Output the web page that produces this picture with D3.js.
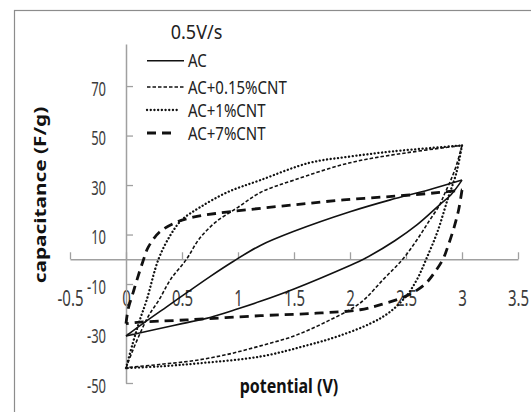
<!DOCTYPE html>
<html>
<head>
<meta charset="utf-8">
<script src="https://cdn.jsdelivr.net/npm/d3@7"></script>
<style>
  html, body { margin: 0; padding: 0; background: #fff; }
  svg { display: block; }
</style>
</head>
<body>
<svg id="chart" width="531" height="412"></svg>
<script>
// CV loops at 0.5 V/s: [potential (V), capacitance (F/g)]
const acCharge = [[0, -31], [0.15, -26], [0.36, -19.3], [0.54, -13.6], [0.75, -7], [0.96, -0.8], [1.2, 5.6], [1.5, 11.3], [2.0, 19.2], [2.36, 24], [2.7, 28], [3.0, 32]];
const acDischarge = [[3.0, 32], [2.9, 26], [2.8, 22], [2.6, 14], [2.4, 7.5], [2.12, 0], [2.0, -2.5], [1.5, -12], [1.2, -17], [1.0, -20], [0.75, -23.5], [0.5, -26], [0.25, -28.5], [0.1, -30], [0, -31]];

const cnt015Charge = [[0, -44], [0.05, -38], [0.125, -30], [0.2, -23], [0.3, -16], [0.4, -8], [0.54, 0], [0.65, 8], [0.8, 15], [1.0, 21], [1.2, 27], [1.5, 32], [2.0, 39], [2.5, 43], [3.0, 46]];
const cnt015Discharge = [[3.0, 46], [2.95, 38], [2.9, 32], [2.85, 27], [2.8, 22], [2.7, 15], [2.6, 8], [2.47, 0], [2.3, -8], [2.09, -17.7], [1.8, -25], [1.5, -31], [1.2, -35], [0.9, -38.5], [0.6, -41], [0.3, -42.5], [0, -43.8]];

const cnt1Charge = [[0, -44], [0.06, -34], [0.12, -25], [0.185, -16.4], [0.29, 0], [0.4, 10], [0.5, 16], [0.66, 21], [0.9, 27], [1.2, 32], [1.64, 39], [2.0, 41.5], [2.38, 43.6], [3.0, 46]];
const cnt1Discharge = [[3.0, 46], [2.95, 35], [2.87, 24], [2.78, 11], [2.68, 0], [2.6, -8], [2.5, -15], [2.35, -21.5], [2.18, -26], [1.9, -31], [1.64, -34.5], [1.2, -39.3], [0.66, -42], [0.3, -43.3], [0, -44]];

const cnt7Charge = [[0, -26], [0.02, -20], [0.06, -14], [0.1, -8], [0.15, -1], [0.2, 5], [0.3, 11], [0.45, 15], [0.6, 17], [0.8, 18.5], [1.08, 20], [1.5, 22], [1.94, 24], [2.4, 25.5], [2.8, 27], [3.0, 28]];
const cnt7Discharge = [[3.0, 28], [2.97, 20], [2.93, 13], [2.88, 6], [2.83, 0], [2.76, -5], [2.68, -9.6], [2.58, -13], [2.47, -15.5], [2.3, -18], [2.09, -20.4], [1.7, -21.8], [1.2, -22.8], [0.54, -24.5], [0.1, -25.5], [0, -26]];

const seriesNames = ["AC", "AC+0.15%CNT", "AC+1%CNT", "AC+7%CNT"];
const xTicks = [-0.5, 0, 0.5, 1, 1.5, 2, 2.5, 3, 3.5];
const yTicks = [-50, -30, -10, 10, 30, 50, 70];

const series = [
  { name: seriesNames[0], loops: [acCharge, acDischarge], dash: null, width: 1.6, cap: "butt", legendEnd: 184 },
  { name: seriesNames[1], loops: [cnt015Charge, cnt015Discharge], dash: "3.5,2", width: 1.6, cap: "butt", legendEnd: 185 },
  { name: seriesNames[2], loops: [cnt1Charge, cnt1Discharge], dash: "0.1,3.6", width: 2.3, cap: "round", legendEnd: 179 },
  { name: seriesNames[3], loops: [cnt7Charge, cnt7Discharge], dash: "9,6", width: 2.8, cap: "butt", legendEnd: 176 },
];

const svg = d3.select("#chart");
const x = d3.scaleLinear().domain([-0.5, 3.5]).range([70, 518]);
const y = d3.scaleLinear().domain([-50, 87]).range([383, 44]);

const axisColor = "#a0a0a0";
const labelColor = "#3c3c3c";
const font = "'Noto Sans', 'Open Sans', sans-serif";
const plain = (d) => String(d); // hyphen minus, like the original

// outer frame (runs off right and bottom edge)
svg.append("rect")
  .attr("x", 14.5).attr("y", 10.5)
  .attr("width", 540).attr("height", 430)
  .attr("fill", "none").attr("stroke", "#8c8c8c").attr("stroke-width", 1.2);

// the text in the picture is tall and narrow, so every label is stretched vertically
function place(sel, px, py, sy) {
  return sel.attr("transform", `translate(${px},${py}) scale(1,${sy})`);
}

// x axis through c = 0, ticks pointing up
const gx = svg.append("g")
  .attr("transform", `translate(0,${y(0)})`)
  .call(d3.axisBottom(x).tickValues(xTicks).tickSizeInner(-7).tickSizeOuter(0).tickPadding(0)
    .tickFormat(plain));
// y axis through v = 0, ticks pointing right
const gy = svg.append("g")
  .attr("transform", `translate(${x(0)},0)`)
  .call(d3.axisLeft(y).tickValues(yTicks).tickSizeInner(-7).tickSizeOuter(0).tickPadding(0)
    .tickFormat(plain));

[gx, gy].forEach((g) => {
  g.select(".domain").attr("stroke", axisColor).attr("stroke-width", 1.5);
  g.selectAll(".tick line").attr("stroke", axisColor).attr("stroke-width", 1.3);
  g.selectAll(".tick text")
    .attr("fill", labelColor)
    .style("font-family", font);
});
gx.selectAll(".tick text")
  .style("font-size", "15px")
  .attr("y", 0).attr("dy", "0.36em")
  .attr("transform", "translate(0,39) scale(1,1.5)");
gy.selectAll(".tick text")
  .style("font-size", "13px")
  .attr("x", 0).attr("dy", "0.36em")
  .attr("text-anchor", "end")
  .attr("transform", "translate(-20,2) scale(1,1.5)");

// curves
const line = d3.line()
  .x((d) => x(d[0]))
  .y((d) => y(d[1]))
  .curve(d3.curveCatmullRom.alpha(0.5));

const gLines = svg.append("g").attr("class", "loops");
series.forEach((s) => {
  gLines.selectAll(null)
    .data(s.loops)
    .enter()
    .append("path")
    .attr("d", line)
    .attr("fill", "none")
    .attr("stroke", "#111")
    .attr("stroke-width", s.width)
    .attr("stroke-linecap", s.cap)
    .attr("stroke-dasharray", s.dash);
});

// title
place(svg.append("text"), 196.5, 39, 1.1)
  .attr("text-anchor", "middle")
  .style("font-family", font).style("font-size", "18px")
  .attr("fill", "#222")
  .text("0.5V/s");

// legend
const legendRows = [60.7, 87, 110, 133];
const gLegend = svg.append("g").attr("class", "legend");
series.forEach((s, i) => {
  const ly = legendRows[i];
  gLegend.append("line")
    .attr("x1", 147).attr("x2", s.legendEnd)
    .attr("y1", ly).attr("y2", ly)
    .attr("stroke", "#111")
    .attr("stroke-width", s.width)
    .attr("stroke-linecap", s.cap)
    .attr("stroke-dasharray", s.dash);
  place(gLegend.append("text"), 188, ly + 6.5, 1.22)
    .style("font-family", font).style("font-size", "15px")
    .attr("fill", "#222")
    .text(s.name);
});

// axis titles
place(svg.append("text"), 289, 393, 1.25)
  .attr("text-anchor", "middle")
  .style("font-family", font).style("font-size", "16px").style("font-weight", "bold")
  .attr("fill", "#111")
  .text("potential (V)");

svg.append("text")
  .attr("transform", "translate(45.5,195) scale(1,1.3) rotate(-90)")
  .attr("text-anchor", "middle")
  .style("font-family", font).style("font-size", "16px").style("font-weight", "bold")
  .attr("fill", "#111")
  .text("capacitance (F/g)");
</script>
</body>
</html>
